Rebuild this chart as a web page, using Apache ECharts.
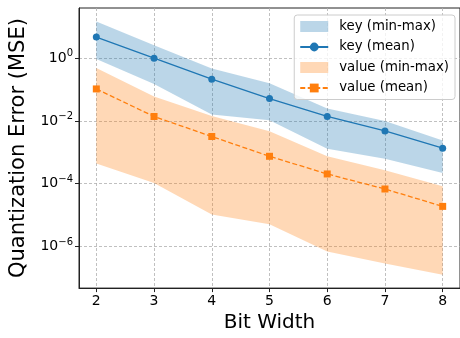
<!DOCTYPE html>
<html>
<head>
<meta charset="utf-8">
<script src="https://cdn.jsdelivr.net/npm/echarts@6/dist/echarts.min.js"></script>
<style>
  html, body { margin: 0; padding: 0; background: #fff; }
  #chart { width: 460px; height: 338px; }
</style>
</head>
<body>
<div id="chart"></div>
<script>
const font = 'DejaVu Sans'
const blue = '#1f77b4'
const orange = '#ff7f0e'

// bit widths on the x axis
const bits = [2, 3, 4, 5, 6, 7, 8]
// y tick labels (powers of ten)
const yTicks = [1e-6, 1e-4, 1e-2, 1]

// key quantization error
const keyMin = [0.95, 0.15, 0.016, 0.0105, 0.0013, 0.00063, 0.00022]
const keyMax = [14.7, 2.6, 0.47, 0.16, 0.025, 0.01, 0.0024]
const keyMean = [4.7, 1.0, 0.215, 0.052, 0.0139, 0.0048, 0.00136]

// value quantization error
const valMin = [4.4e-4, 1.05e-4, 1.05e-5, 5.1e-6, 7e-7, 2.9e-7, 1.26e-7]
const valMax = [0.49, 0.06, 0.0145, 0.0047, 7.5e-4, 2.7e-4, 8.3e-5]
const valMean = [0.105, 0.0139, 0.0032, 7.5e-4, 2.05e-4, 6.8e-5, 1.9e-5]

const pairs = (ys) => bits.map((b, i) => [b, ys[i]])

function logLabel(v) {
  const e = Math.round(Math.log10(v))
  return '{b|10}{s|' + String(e).replace('-', '\u2212') + '}'
}

// filled min-max band, drawn as one polygon through the axis scales
function band(name, lo, hi, color) {
  return {
    name: name,
    type: 'custom',
    data: bits.map((b, i) => [b, lo[i], hi[i]]),
    encode: { x: 0, y: [1, 2] },
    itemStyle: { color: color },
    silent: true,
    z: 1,
    renderItem: function (params, api) {
      if (params.dataIndex !== 0) return
      const top = bits.map((b, i) => api.coord([b, hi[i]]))
      const bottom = bits.map((b, i) => api.coord([b, lo[i]])).reverse()
      return {
        type: 'polygon',
        shape: { points: top.concat(bottom) },
        style: { fill: color }
      }
    }
  }
}

const axisCommon = {
  nameLocation: 'middle',
  nameTextStyle: { fontFamily: font, fontSize: 20, color: '#000' },
  axisLine: { show: true, lineStyle: { color: '#222', width: 1 } },
  splitLine: { show: true, lineStyle: { color: '#b0b0b0', type: [3, 2], width: 0.8 } }
}

const chart = echarts.init(document.getElementById('chart'))

chart.setOption({
  animation: false,
  textStyle: { fontFamily: font },
  grid: {
    left: 78, top: 8, right: -2, bottom: 44,
    show: true, borderColor: '#222', borderWidth: 1
  },
  legend: {
    orient: 'vertical',
    top: 15, right: 5,
    padding: [5, 6, 5, 5],
    itemGap: 7.5,
    itemWidth: 28, itemHeight: 11,
    backgroundColor: 'rgba(255,255,255,0.8)',
    borderColor: '#cccccc', borderWidth: 1, borderRadius: 3,
    textStyle: { fontFamily: font, fontSize: 13.3, color: '#000', padding: [0, 0, 0, 6] },
    data: [
      { name: 'key (min-max)', icon: 'rect' },
      { name: 'key (mean)' },
      { name: 'value (min-max)', icon: 'rect' },
      { name: 'value (mean)' }
    ]
  },
  xAxis: Object.assign({}, axisCommon, {
    type: 'value',
    min: 1.7, max: 8.3,
    name: 'Bit Width',
    nameGap: 24,
    axisTick: { show: true, length: 4, lineStyle: { color: '#222' }, customValues: bits },
    axisLabel: {
      fontFamily: font, fontSize: 14, color: '#000', margin: 6,
      customValues: bits
    }
  }),
  yAxis: Object.assign({}, axisCommon, {
    type: 'log',
    min: Math.pow(10, -7.325), max: Math.pow(10, 1.6),
    name: 'Quantization Error (MSE)',
    nameGap: 50,
    nameTextStyle: { fontFamily: font, fontSize: 21, color: '#000' },
    axisTick: { show: true, length: 4, lineStyle: { color: '#222' }, customValues: yTicks },
    axisLabel: {
      fontFamily: font, color: '#000', margin: 6,
      customValues: yTicks,
      formatter: logLabel,
      rich: {
        b: { fontFamily: font, fontSize: 14, color: '#000' },
        s: { fontFamily: font, fontSize: 10, color: '#000', padding: [0, 0, 9, 0] }
      }
    }
  }),
  series: [
    band('key (min-max)', keyMin, keyMax, 'rgba(31,119,180,0.3)'),
    band('value (min-max)', valMin, valMax, 'rgba(255,127,14,0.3)'),
    {
      name: 'key (mean)',
      type: 'line',
      data: pairs(keyMean),
      symbol: 'circle', symbolSize: 7,
      itemStyle: { color: blue },
      lineStyle: { color: blue, width: 1.3 },
      z: 5
    },
    {
      name: 'value (mean)',
      type: 'line',
      data: pairs(valMean),
      symbol: 'rect', symbolSize: 7,
      itemStyle: { color: orange },
      lineStyle: { color: orange, width: 1.3, type: [5, 2.5] },
      z: 5
    }
  ]
})
</script>
</body>
</html>
